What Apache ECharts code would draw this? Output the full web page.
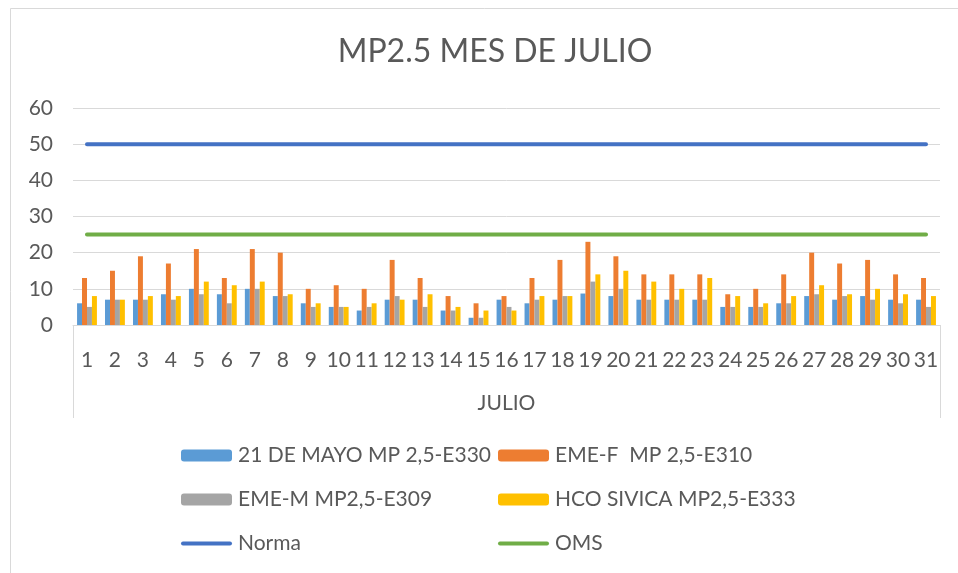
<!DOCTYPE html>
<html>
<head>
<meta charset="utf-8">
<title>MP2.5 MES DE JULIO</title>
<script src="https://cdn.jsdelivr.net/npm/echarts@6/dist/echarts.min.js"></script>
<style>
  html, body { margin: 0; padding: 0; background: #fff; }
  #chart { width: 958px; height: 573px; }
</style>
</head>
<body>
<div id="chart"></div>
<script>
// dias del mes
const days = ["1","2","3","4","5","6","7","8","9","10","11","12","13","14","15","16",
  "17","18","19","20","21","22","23","24","25","26","27","28","29","30","31"];

// estaciones MP2.5 (ug/m3)
const mayo21 = [6, 7, 7, 8.5, 10, 8.5, 10, 8, 6, 5, 4, 7, 7, 4, 2, 7, 6, 7, 8.7, 8, 7, 7, 7, 5, 5, 6, 8, 7, 8, 7, 7];
const emeF   = [13, 15, 19, 17, 21, 13, 21, 20, 10, 11, 10, 18, 13, 8, 6, 8, 13, 18, 23, 19, 14, 14, 14, 8.5, 10, 14, 20, 17, 18, 14, 13];
const emeM   = [5, 7, 7, 7, 8.5, 6, 10, 8, 5, 5, 5, 8, 5, 4, 2, 5, 7, 8, 12, 10, 7, 7, 7, 5, 5, 6, 8.5, 8, 7, 6, 5];
const sivica = [8, 7, 8, 8, 12, 11, 12, 8.5, 6, 5, 6, 7, 8.5, 5, 4, 4, 8, 8, 14, 15, 12, 10, 13, 8, 6, 8, 11, 8.5, 10, 8.5, 8];

// limites
const NORMA = 50;
const OMS = 25;

const yTicks = [0, 10, 20, 30, 40, 50, 60];

const seriesNames = ["21 DE MAYO MP 2,5-E330", "EME-F  MP 2,5-E310", "EME-M MP2,5-E309", "HCO SIVICA MP2,5-E333", "Norma", "OMS"];

const font = "Lato, 'Open Sans', sans-serif";
const txt = "#595959";
// icono de linea para la leyenda (proporcion 51x4)
const lineIcon = "path://M2,0 L49,0 A2,2 0 0 1 49,4 L2,4 A2,2 0 0 1 2,0 Z";

const chart = echarts.init(document.getElementById("chart"));

const barSeries = (name, data, color) => ({
  name, type: "bar", data,
  barGap: "0%", barCategoryGap: "29%",
  itemStyle: { color },
});

const lineSeries = (name, value, color) => ({
  name, type: "line",
  data: days.map(() => value),
  symbol: "none", showSymbol: false,
  lineStyle: { color, width: 4, cap: "round" },
  itemStyle: { color },
  z: 3,
});

const legendText = { fontFamily: font, fontSize: 21, color: txt, padding: [0, 0, 0, 1] };

chart.setOption({
  backgroundColor: "#fff",
  animation: false,
  textStyle: { fontFamily: font, color: txt },
  title: {
    text: "MP2.5 MES DE JULIO",
    left: 490, top: 31, textAlign: "center",
    textStyle: { fontFamily: font, fontSize: 32, fontWeight: "normal", color: txt },
  },
  grid: { left: 73, right: 18, top: 108, bottom: 248, containLabel: false },
  legend: [
    {
      orient: "vertical", left: 176, top: 440, itemGap: 23,
      itemWidth: 51, itemHeight: 12,
      data: [seriesNames[0], seriesNames[2], { name: seriesNames[4], icon: lineIcon }],
      textStyle: legendText,
    },
    {
      orient: "vertical", left: 493, top: 440, itemGap: 23,
      itemWidth: 51, itemHeight: 12,
      data: [seriesNames[1], seriesNames[3], { name: seriesNames[5], icon: lineIcon }],
      textStyle: legendText,
    },
  ],
  xAxis: {
    type: "category",
    data: days,
    name: "JULIO",
    nameLocation: "middle",
    nameGap: 68,
    nameTextStyle: { fontFamily: font, fontSize: 21, color: txt },
    axisLine: { lineStyle: { color: "#d9d9d9" } },
    axisTick: { show: false },
    axisLabel: { interval: 0, margin: 25, fontFamily: font, fontSize: 21, color: txt },
  },
  yAxis: {
    type: "value",
    min: yTicks[0], max: yTicks[yTicks.length - 1], interval: 10,
    axisLine: { show: false },
    axisTick: { show: false },
    axisLabel: { margin: 20, fontFamily: font, fontSize: 21, color: txt },
    splitLine: { lineStyle: { color: "#d9d9d9" } },
  },
  graphic: [
    // marco del area del grafico
    { type: "rect", shape: { x: 10.5, y: 8.5, width: 960, height: 580 },
      style: { fill: "none", stroke: "#d9d9d9", lineWidth: 1 }, silent: true },
    // recuadro de etiquetas del eje x
    { type: "line", shape: { x1: 73.5, y1: 325, x2: 73.5, y2: 418 },
      style: { stroke: "#d9d9d9", lineWidth: 1 }, silent: true },
    { type: "line", shape: { x1: 940.5, y1: 325, x2: 940.5, y2: 418 },
      style: { stroke: "#d9d9d9", lineWidth: 1 }, silent: true },
  ],
  series: [
    barSeries(seriesNames[0], mayo21, "#5B9BD5"),
    barSeries(seriesNames[1], emeF, "#ED7D31"),
    barSeries(seriesNames[2], emeM, "#A5A5A5"),
    barSeries(seriesNames[3], sivica, "#FFC000"),
    lineSeries(seriesNames[4], NORMA, "#4472C4"),
    lineSeries(seriesNames[5], OMS, "#70AD47"),
  ],
});
</script>
</body>
</html>
